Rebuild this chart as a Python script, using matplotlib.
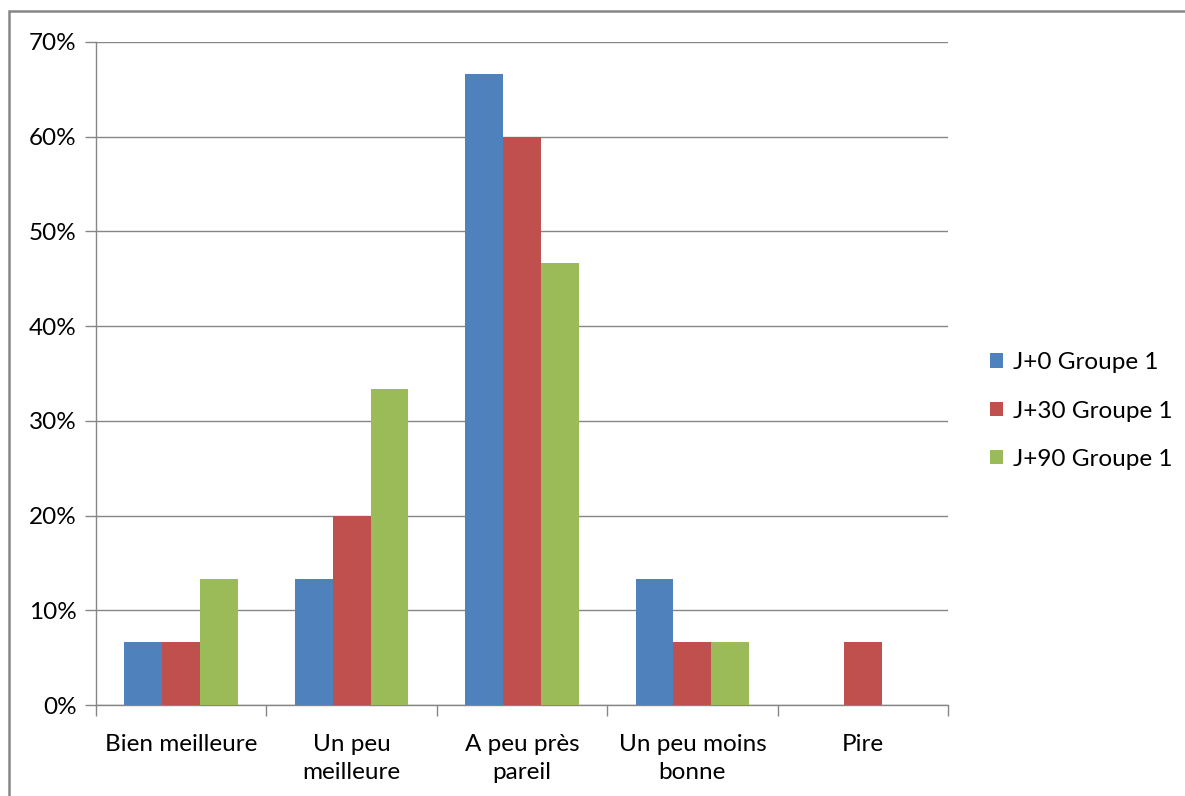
import numpy as np
import matplotlib.pyplot as plt
from matplotlib.patches import Rectangle
from matplotlib.ticker import PercentFormatter

# Réponses par catégorie, en % (15 répondants)
categories = ["Bien meilleure", "Un peu\nmeilleure", "A peu près\npareil",
              "Un peu moins\nbonne", "Pire"]
series_names = ["J+0 Groupe 1", "J+30 Groupe 1", "J+90 Groupe 1"]
j0 = [6.67, 13.33, 66.67, 13.33, 0.0]
j30 = [6.67, 20.0, 60.0, 6.67, 6.67]
j90 = [13.33, 33.33, 46.67, 6.67, 0.0]
colors = ["#4F81BD", "#C0504D", "#9BBB59"]

GRID = "#868686"
FS = 17.5


def main():
    plt.rcParams["font.family"] = ["Lato", "DejaVu Sans"]
    fig = plt.figure(figsize=(11.85, 7.96), dpi=100)
    ax = fig.add_axes([96 / 1185, 1 - 705 / 796, (948 - 96) / 1185, (705 - 42) / 796])

    # chart frame
    fig.patches.append(Rectangle((9 / 1185, -0.1), 1.2, 1.1 - 11 / 796,
                                 transform=fig.transFigure, fill=False,
                                 edgecolor=GRID, linewidth=1.8))

    x = np.arange(len(categories))
    w = 1 / 4.5
    for i, (vals, name) in enumerate(zip([j0, j30, j90], series_names)):
        ax.bar(x + (i - 1) * w, vals, width=w, color=colors[i], label=name, zorder=3)

    ax.set_xlim(-0.5, len(categories) - 0.5)
    ax.set_ylim(0, 70)
    ax.set_yticks(range(0, 71, 10))
    ax.yaxis.set_major_formatter(PercentFormatter(decimals=0))
    ax.grid(axis="y", color=GRID, linewidth=1, zorder=0)
    ax.tick_params(axis="y", length=8, color=GRID, width=1, labelsize=FS, pad=6)

    ax.set_xticks(x)
    ax.set_xticklabels(categories, fontsize=FS, linespacing=1.42, va="top")
    ax.tick_params(axis="x", length=0, pad=21)
    ax.set_xticks(np.arange(-0.5, len(categories)), minor=True)
    ax.tick_params(axis="x", which="minor", length=8, color=GRID, width=1)

    for s in ["top", "right"]:
        ax.spines[s].set_visible(False)
    for s in ["left", "bottom"]:
        ax.spines[s].set_color(GRID)
        ax.spines[s].set_linewidth(1)

    ax.legend(loc="center left", bbox_to_anchor=(968 / 1185, 1 - 411 / 796),
              bbox_transform=fig.transFigure, frameon=False, fontsize=FS,
              handlelength=0.55, handleheight=0.55, handletextpad=0.4,
              labelspacing=1.12)

    fig.savefig("out.png", dpi=100)


if __name__ == "__main__":
    main()
